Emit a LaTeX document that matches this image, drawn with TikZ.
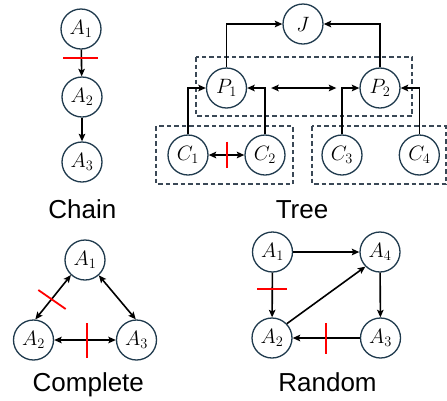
\documentclass[tikz,border=0pt]{standalone}
\usepackage{fontspec}
\setsansfont{Liberation Sans}
\usetikzlibrary{arrows.meta,calc}
\definecolor{nodecol}{HTML}{1F3A4D}
\definecolor{boxcol}{HTML}{3A4856}
\definecolor{cutred}{HTML}{FF0000}
\begin{document}
\begin{tikzpicture}[x=1pt,y=-1pt,
  vnode/.style={circle,draw=nodecol,fill=white,line width=1.3pt,minimum size=40pt,inner sep=0pt,font=\fontsize{20}{24}\selectfont},
  tip/.tip={Stealth[length=7.5pt,width=6.5pt,inset=1.5pt]},
  arr/.style={line width=1.6pt,-tip},
  dbl/.style={line width=1.6pt,tip-tip},
  cut/.style={draw=cutred,line width=1.8pt},
  grp/.style={draw=boxcol,line width=1.2pt,dash pattern=on 4.5pt off 3pt},
  lbl/.style={font=\sffamily\fontsize{26}{30}\selectfont,anchor=base}]
\useasboundingbox (0,0) rectangle (447,400);

% ---------- Chain ----------
\node[vnode] (cA1) at (81,29) {$A_1$};
\node[vnode] (cA2) at (82,97) {$A_2$};
\node[vnode] (cA3) at (82,162) {$A_3$};
\draw[arr] (cA1) -- (cA2);
\draw[arr] (cA2) -- (cA3);
\draw[cut] (63,58) -- (98,58);
\node[lbl] (chainlbl) at (82.3,218.3) {Chain};

% ---------- Tree ----------
\draw[grp] (196,57) rectangle (412,116);
\draw[grp] (156,126) rectangle (293,184);
\draw[grp] (312,126) rectangle (446,184);
\node[vnode] (J) at (303,24) {$J$};
\node[vnode] (P1) at (226.5,88) {$P_1$};
\node[vnode] (P2) at (380,88) {$P_2$};
\node[vnode] (C1) at (188,155) {$C_1$};
\node[vnode] (C2) at (265,155) {$C_2$};
\node[vnode] (C3) at (342,155) {$C_3$};
\node[vnode] (C4) at (419.3,155) {$C_4$};
\draw[arr] (P1.north) |- (J.west);
\draw[arr] (P2.north) |- (J.east);
\draw[arr] (C1.north) |- (P1.west);
\draw[arr] (C2.north) |- (P1.east);
\draw[arr] (C3.north) |- (P2.west);
\draw[arr] (C4.north) |- (P2.east);
\draw[dbl] ([xshift=24pt]P1.east) -- ([xshift=-23pt]P2.west);
\draw[dbl] (C1) -- (C2);
\draw[cut] (226.7,141.7) -- (226.7,168.3);
\node[lbl] (treelbl) at (302,218.3) {Tree};

% ---------- Complete ----------
\node[vnode] (kA1) at (85,260) {$A_1$};
\node[vnode] (kA2) at (33.5,340) {$A_2$};
\node[vnode] (kA3) at (136.5,340) {$A_3$};
\draw[dbl] (kA1.227) -- (kA2.85);
\draw[dbl] (kA1.312) -- (kA3.92);
\draw[dbl] (kA2) -- (kA3);
\draw[cut] (38.3,290) -- (65.7,309);
\draw[cut] (86.7,323.3) -- (86.7,358.3);
\node[lbl] (completelbl) at (88.3,391.5) {Complete};

% ---------- Random ----------
\node[vnode] (rA1) at (272.5,252) {$A_1$};
\node[vnode] (rA4) at (380,252) {$A_4$};
\node[vnode] (rA2) at (272,338) {$A_2$};
\node[vnode] (rA3) at (380.5,338) {$A_3$};
\draw[arr] (rA1) -- (rA4);
\draw[arr] (rA1) -- (rA2);
\draw[arr] (rA4) -- (rA3);
\draw[arr] (rA3) -- (rA2);
\draw[arr] (rA2.44) -- (rA4.225);
\draw[cut] (257.3,289) -- (286.7,289);
\draw[cut] (326,323.3) -- (326,354);
\node[lbl] (randomlbl) at (327.5,391.5) {Random};
\end{tikzpicture}
\end{document}
